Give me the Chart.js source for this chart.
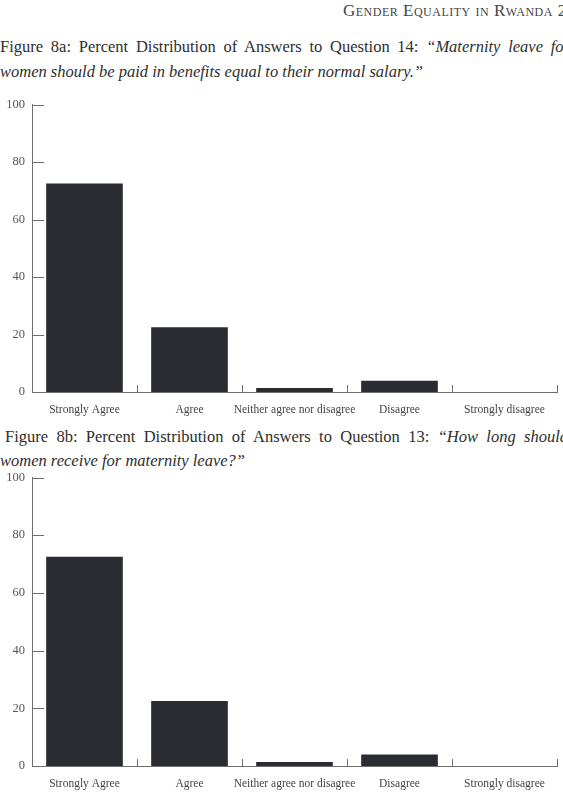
<!DOCTYPE html>
<html>
<head>
<meta charset="utf-8">
<script src="https://cdn.jsdelivr.net/npm/chart.js@4"></script>
<style>
  html, body { margin: 0; padding: 0; background: #fff; }
  body { width: 563px; height: 800px; overflow: hidden; position: relative; font-family: 'Liberation Serif', 'DejaVu Serif', serif; color: #333; }
  .header { position: absolute; top: 1px; left: 343px; white-space: nowrap; font-size: 17px; font-variant: small-caps; letter-spacing: 0.5px; color: #444; }
  .cap { position: absolute; left: 0; white-space: nowrap; font-size: 16.5px; color: #2e2e2e; }
  .just { width: 570px; text-align: justify; text-align-last: justify; }
  .cap i { font-style: italic; }
  .box { position: absolute; left: 0; width: 563px; }
</style>
</head>
<body>
<div class="header">Gender Equality in Rwanda 2</div>

<div class="cap just" style="top:37px;">Figure 8a: Percent Distribution of Answers to Question 14: <i>“Maternity leave for</i></div>
<div class="cap" style="top:62px;"><i>women should be paid in benefits equal to their normal salary.”</i></div>

<div class="box" style="top:90px; height:330px;"><canvas id="chartA"></canvas></div>

<div class="cap just" style="top:427px; left:5px; width:563px;">Figure 8b: Percent Distribution of Answers to Question 13: <i>“How long should</i></div>
<div class="cap" style="top:451px;"><i>women receive for maternity leave?”</i></div>

<div class="box" style="top:463px; height:331px;"><canvas id="chartB"></canvas></div>

<script>
const categories = ["Strongly Agree", "Agree", "Neither agree nor disagree", "Disagree", "Strongly disagree"];
const valuesQ14 = [72.5, 22.5, 1.4, 3.9, 0];
const valuesQ13 = [72.5, 22.5, 1.4, 4.0, 0];
const yTicks = [0, 20, 40, 60, 80, 100];

Chart.defaults.font.family = "'Liberation Serif', 'DejaVu Serif', serif";

const axisColor = "#6e6e6e";

// tick marks drawn inward, as in the printed figure
const inwardTicks = {
  id: "inwardTicks",
  afterDraw(chart) {
    const ctx = chart.ctx;
    const x = chart.scales.x;
    const y = chart.scales.y;
    ctx.save();
    ctx.strokeStyle = axisColor;
    ctx.lineWidth = 1;
    ctx.beginPath();
    y.ticks.forEach(t => {
      if (t.value === 0) return;
      const py = Math.round(y.getPixelForValue(t.value)) + 0.5;
      ctx.moveTo(x.left, py);
      ctx.lineTo(x.left + 12, py);
    });
    const half = (x.getPixelForValue(1) - x.getPixelForValue(0)) / 2;
    for (let i = 0; i < categories.length; i++) {
      const px = Math.round(x.getPixelForValue(i) + half) + 0.5;
      ctx.moveTo(px, y.bottom);
      ctx.lineTo(px, y.bottom - 7);
    }
    ctx.stroke();
    ctx.restore();
  }
};

function makeChart(id, values) {
  return new Chart(document.getElementById(id), {
    type: "bar",
    data: {
      labels: categories,
      datasets: [{
        data: values,
        backgroundColor: "#2b2c31",
        borderWidth: 0,
        barPercentage: 0.73,
        categoryPercentage: 1
      }]
    },
    options: {
      responsive: true,
      maintainAspectRatio: false,
      animation: false,
      layout: { padding: { top: 9, right: 6, left: 0, bottom: 0 } },
      plugins: { legend: { display: false }, tooltip: { enabled: false } },
      scales: {
        x: {
          grid: { display: false, drawTicks: false },
          border: { display: true, color: axisColor, width: 1 },
          ticks: { color: "#444", font: { size: 11.5 }, padding: 11, maxRotation: 0, autoSkip: false },
          afterFit(scale) { scale.height = 28; }
        },
        y: {
          min: 0,
          max: 100,
          afterBuildTicks(scale) { scale.ticks = yTicks.map(v => ({ value: v })); },
          grid: { display: false, drawTicks: false },
          border: { display: true, color: axisColor, width: 1 },
          ticks: { color: "#555", font: { size: 12.5 }, padding: 7 },
          afterFit(scale) { scale.width = 32; }
        }
      }
    },
    plugins: [inwardTicks]
  });
}

makeChart("chartA", valuesQ14);
makeChart("chartB", valuesQ13);
</script>
</body>
</html>
